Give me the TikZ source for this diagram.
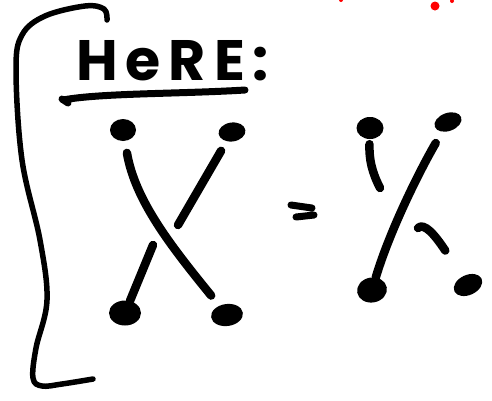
\documentclass[tikz,border=0pt]{standalone}
\usepackage{fontspec}
\newfontfamily\handfont{Poppins}[LetterSpace=14]
\usetikzlibrary{shapes.geometric}
\begin{document}
\begin{tikzpicture}[x=1pt, y=-1pt, line join=round, line cap=round,
  dot/.style={ellipse, fill, draw=none, inner sep=0pt},
  strand/.style={line width=8.5pt}]
\useasboundingbox (0,0) rectangle (492,400);
%bracket
\draw[line width=5.5pt] plot[smooth, tension=0.6] coordinates {(107,20) (104,9) (85,6) (45,16) (22,35) (16,70) (22,160) (40,240) (47,300) (36,348) (33,378) (42,386) (62,384) (93,379)};
%title
\node[anchor=base west, inner sep=0pt, font=\handfont\bfseries\fontsize{57}{57}\selectfont] (here) at (76,80) {HeRE:};
\draw[line width=7pt] (62,99) -- (68,103) (63,100) .. controls (100,93) and (180,94) .. (245,90);
%dots
\foreach \x/\y/\w/\h/\r/\n in {123/130/26/22/0/a1, 232/132/27/19/8/a2, 125/313/32/25/0/a3, 227/315/32/22/8/a4,
  370/128/27/22/0/b1, 448/122/28/18/20/b2, 372/290/30/25/10/b3, 468/285/30/20/25/b4}
\node[dot, minimum width=\w pt, minimum height=\h pt, rotate=\r] (\n) at (\x,\y) {};
\coordinate (x1) at (178,225);
\coordinate (x2) at (153,245);
\coordinate (y1) at (380,188);
\coordinate (y2) at (418,228);
%left crossing
\draw[strand, shorten <=12pt, shorten >=13pt] (a1) .. controls (135,200) and (170,245) .. (a4);
\draw[strand, shorten <=11pt] (a2) -- (x1);
\draw[strand] (x2) -- (a3);
%equals
\draw[line width=7pt] (291,205) -- (312,208) (296,217) -- (314,215);
%right side
\draw[strand, shorten <=13pt] (b2) .. controls (420,170) and (390,230) .. (b3);
\draw[strand, shorten <=5pt] (b1) .. controls (369,160) and (372,172) .. (y1);
\draw[strand, shorten >=31pt] (y2) .. controls (424,222) and (435,235) .. (b4);
%red marks
\fill[red] (435,6) circle (4.5pt) (452,1) circle (2pt) (341,0) circle (2pt);
\end{tikzpicture}
\end{document}
